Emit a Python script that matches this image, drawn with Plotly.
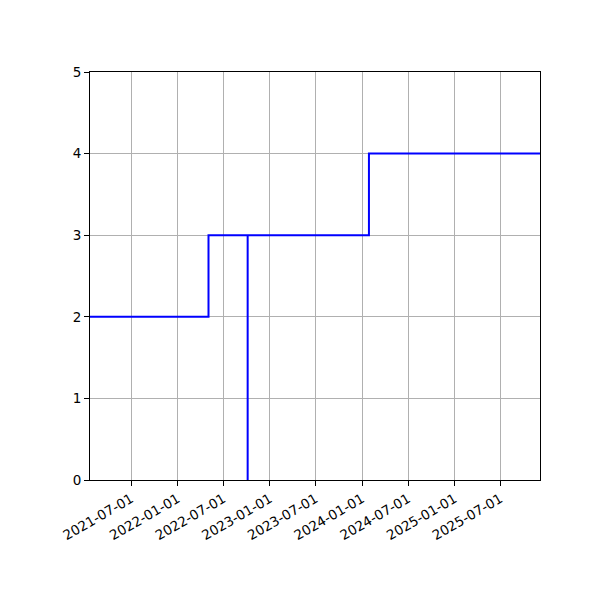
import plotly.graph_objects as go

dates = ["2021-01-19", "2022-05-03", "2022-10-05", "2022-10-05", "2024-01-28", "2025-12-05"]
values = [2, 3, 0, 3, 4, 4]
tick_labels = ["2021-07-01", "2022-01-01", "2022-07-01", "2023-01-01", "2023-07-01",
               "2024-01-01", "2024-07-01", "2025-01-01", "2025-07-01"]
y_ticks = [0, 1, 2, 3, 4, 5]

fig = go.Figure()
fig.add_trace(go.Scatter(x=dates, y=values, mode="lines", line_shape="hv",
                         line=dict(color="blue", width=2), showlegend=False))

axis_common = dict(showline=True, linecolor="black", linewidth=1, mirror=True,
                   showgrid=True, gridcolor="#b0b0b0", gridwidth=1,
                   ticks="outside", ticklen=5, tickcolor="black", tickwidth=1,
                   zeroline=False, tickfont=dict(family="DejaVu Sans", size=13.5, color="black"))

fig.update_xaxes(type="date", range=["2021-01-19", "2025-12-05"],
                 tickvals=tick_labels, ticktext=tick_labels, tickangle=-30, **axis_common)
fig.update_yaxes(range=[0, 5], tickvals=y_ticks, **axis_common)

fig.update_layout(width=600, height=600, plot_bgcolor="white", paper_bgcolor="white",
                  margin=dict(l=82, r=68, t=64, b=128),
                  font=dict(family="DejaVu Sans", size=13.5, color="black"))

fig.write_html("out.html")
